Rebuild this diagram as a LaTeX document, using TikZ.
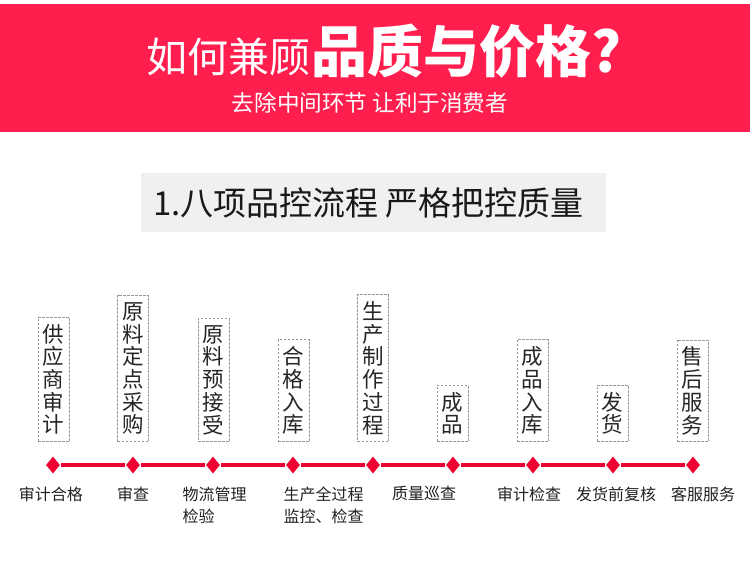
\documentclass[tikz,border=0pt]{standalone}
\usepackage{fontspec}
\setmainfont{Noto Sans CJK SC}
\usetikzlibrary{shapes.geometric}

\definecolor{bannerred}{RGB}{255,30,78}
\definecolor{linered}{RGB}{238,0,50}
\definecolor{headgrey}{RGB}{240,240,240}
\definecolor{dashgrey}{RGB}{150,150,150}
\definecolor{labeltext}{RGB}{34,34,34}

\begin{document}
\begin{tikzpicture}[x=1pt, y=-1pt,
    stagebox/.style={draw=dashgrey, dash pattern=on 2.5pt off 1.5pt, line width=0.6pt,
                     minimum width=31pt, inner xsep=0pt, inner ysep=7pt, align=center,
                     anchor=south, text=black!85, font=\fontsize{21.5}{22.7}\selectfont},
    gem/.style={diamond, fill=linered, minimum width=14pt, minimum height=17pt, inner sep=0pt},
    flowline/.style={draw=linered, line width=3.5pt, shorten >=1pt, shorten <=1pt},
    steplabel/.style={anchor=north, align=center, text=labeltext, font=\fontsize{16}{22}\selectfont},
    steplabelleft/.style={steplabel, anchor=north west, align=left}]
    \useasboundingbox (0,0) rectangle (750,566);
    \fill[white] (0,0) rectangle (750,566);

    % banner
    \fill[bannerred] (0,4) rectangle (750,132);
    \node[anchor=base east, inner sep=0pt, text=white, font=\fontsize{41}{41}\selectfont] (title) at (311,72) {如何兼顾};
    \node[anchor=base west, inner sep=0pt, text=white, font=\fontsize{56}{56}\selectfont\bfseries] (titlebold) at (title.base east) {品质与价格?};
    \node[text=white, inner sep=0pt, font=\fontsize{22.6}{22.6}\selectfont] (subtitle) at (370,103) {去除中间环节 让利于消费者};

    % heading
    \fill[headgrey] (141,173) rectangle (606,232);
    \node[inner sep=0pt, font=\fontsize{33}{33}\selectfont, text=black!90] (heading) at (368.5,203) {1.八项品控流程 严格把控质量};

    % stages
    \node[stagebox] (s1) at (53.5,442) {供\\应\\商\\审\\计};
    \node[stagebox] (s2) at (133,442) {原\\料\\定\\点\\采\\购};
    \node[stagebox] (s3) at (213.5,442) {原\\料\\预\\接\\受};
    \node[stagebox] (s4) at (293.5,442) {合\\格\\入\\库};
    \node[stagebox] (s5) at (373,442) {生\\产\\制\\作\\过\\程};
    \node[stagebox] (s6) at (452.5,442) {成\\品};
    \node[stagebox] (s7) at (532.5,442) {成\\品\\入\\库};
    \node[stagebox] (s8) at (612.5,442) {发\\货};
    \node[stagebox] (s9) at (692.5,442) {售\\后\\服\\务};

    % timeline
    \node[gem] (d1) at (53,465) {};
    \node[gem] (d2) at (133,465) {};
    \node[gem] (d3) at (213,465) {};
    \node[gem] (d4) at (293,465) {};
    \node[gem] (d5) at (373,465) {};
    \node[gem] (d6) at (453,465) {};
    \node[gem] (d7) at (533,465) {};
    \node[gem] (d8) at (613,465) {};
    \node[gem] (d9) at (693,465) {};
    \draw[flowline] (d1) -- (d2);
    \draw[flowline] (d2) -- (d3);
    \draw[flowline] (d3) -- (d4);
    \draw[flowline] (d4) -- (d5);
    \draw[flowline] (d5) -- (d6);
    \draw[flowline] (d6) -- (d7);
    \draw[flowline] (d7) -- (d8);
    \draw[flowline] (d8) -- (d9);

    % checks
    \node[steplabel] (c1) at (51,483) {审计合格};
    \node[steplabel] (c2) at (133,483) {审查};
    \node[steplabelleft] (c3) at (179,483) {物流管理\\检验};
    \node[steplabelleft] (c4) at (280,483) {生产全过程\\监控、检查};
    \node[steplabel] (c5) at (424,483) {质量巡查};
    \node[steplabel] (c6) at (529,483) {审计检查};
    \node[steplabel] (c7) at (616,483) {发货前复核};
    \node[steplabel] (c8) at (703,483) {客服服务};
\end{tikzpicture}
\end{document}
